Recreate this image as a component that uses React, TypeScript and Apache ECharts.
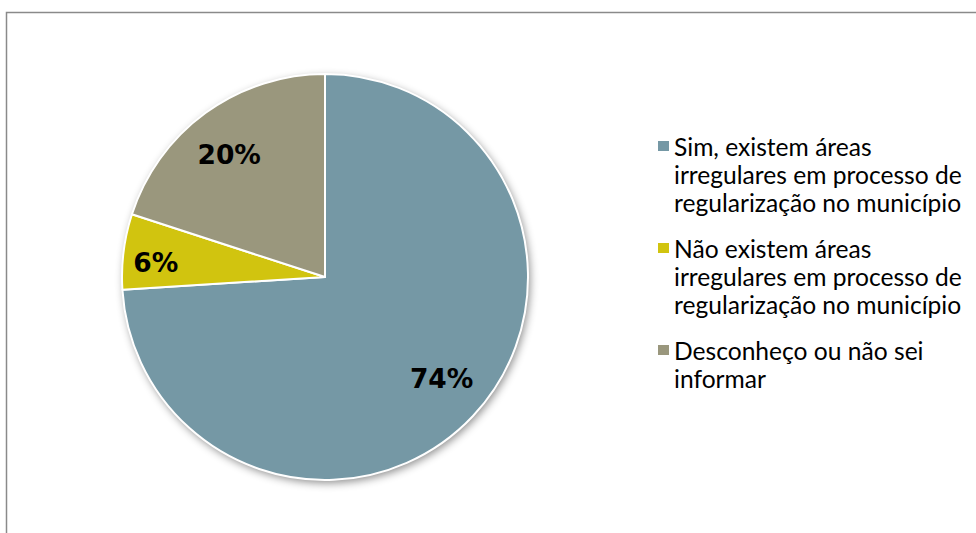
import React, { useEffect, useRef } from "react";
import * as echarts from "echarts";

const categories = [
  "Sim, existem áreas\nirregulares em processo de\nregularização no município",
  "Não existem áreas\nirregulares em processo de\nregularização no município",
  "Desconheço ou não sei\ninformar",
];
const values = [74, 6, 20];
const colors = ["#7598A5", "#D1C40F", "#9A977D"];

export default function App() {
  const ref = useRef<HTMLDivElement>(null);
  useEffect(() => {
    if (!ref.current) return;
    const chart = echarts.init(ref.current, null, { renderer: "svg" });
    const center = [325, 277];
    const R = 203;
    const L = 28;
    const N = 3;
    const H = L * N;
    // legend icon: a square level with the first text line, inside a box as tall as the text block
    const iconPath = `path://M0,0L11,0L0,0Z M0,${L / 2 - 5}H11V${L / 2 + 5}H0Z M0,${H}L11,${H}L0,${H}Z`;
    const pieData = categories.map((name, i) => ({
      name,
      value: values[i],
      itemStyle: { color: colors[i] },
    }));
    chart.setOption({
      animation: false,
      backgroundColor: "#ffffff",
      graphic: [
        {
          type: "rect",
          shape: { x: 6.5, y: 12.5, width: 1000, height: 600 },
          style: { fill: "none", stroke: "#8a8a8a", lineWidth: 1.5 },
          silent: true,
          z: -10,
        },
      ],
      legend: {
        orient: "vertical",
        left: 658,
        top: 132,
        padding: 0,
        itemWidth: 11,
        itemHeight: H,
        itemGap: 18,
        icon: iconPath,
        selectedMode: false,
        itemStyle: { borderWidth: 0 },
        formatter: (name: string) => {
          const lines = name.split("\n");
          while (lines.length < N) lines.push(" ");
          return lines.join("\n");
        },
        textStyle: {
          fontFamily: "Lato",
          fontSize: 24.6,
          lineHeight: L,
          color: "#000000",
        },
        data: categories,
      },
      series: [
        {
          type: "pie",
          center,
          radius: R,
          silent: true,
          label: { show: false },
          labelLine: { show: false },
          data: [
            {
              name: "_base",
              value: 1,
              itemStyle: {
                color: "#ffffff",
                shadowBlur: 8,
                shadowColor: "rgba(0,0,0,0.45)",
                shadowOffsetX: 2,
                shadowOffsetY: 3,
              },
            },
          ],
        },
        {
          type: "pie",
          center,
          radius: R,
          startAngle: 90,
          clockwise: true,
          silent: true,
          emphasis: { disabled: true },
          itemStyle: { borderColor: "#ffffff", borderWidth: 2 },
          label: { show: false },
          labelLine: { show: false },
          data: pieData,
        },
        {
          type: "pie",
          center,
          radius: [100, R],
          startAngle: 90,
          clockwise: true,
          silent: true,
          emphasis: { disabled: true },
          itemStyle: { color: "rgba(0,0,0,0)" },
          labelLine: { show: false },
          label: {
            show: true,
            position: "inside",
            formatter: "{d}%",
            fontFamily: "DejaVu Sans",
            fontWeight: "bold",
            fontSize: 26.5,
            color: "#000000",
          },
          labelLayout: (p: any) => {
            if (p.dataIndex === 0) return { dx: 4, dy: -4 };
            if (p.dataIndex === 1) return { dx: -16, dy: 5 };
            return { dx: -5, dy: 2 };
          },
          data: categories.map((name, i) => ({ name, value: values[i] })),
        },
      ],
    });
    return () => chart.dispose();
  }, []);
  return (
    <div
      ref={ref}
      style={{ position: "absolute", left: 0, top: 0, width: 976, height: 533 }}
    />
  );
}
